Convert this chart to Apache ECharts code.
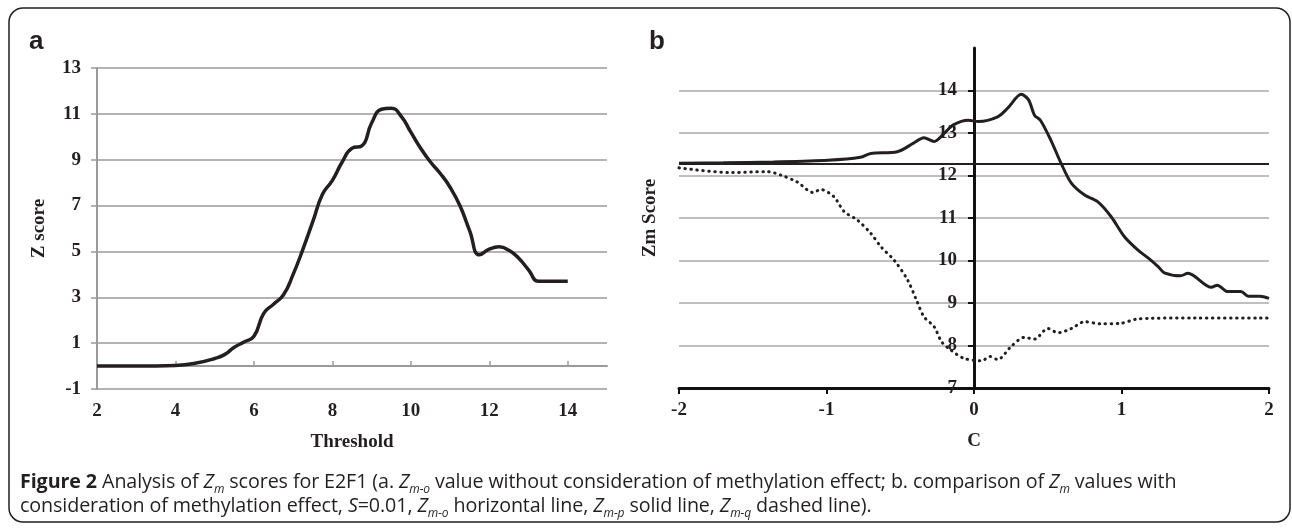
<!DOCTYPE html>
<html>
<head>
<meta charset="utf-8">
<script src="https://cdn.jsdelivr.net/npm/echarts@6/dist/echarts.min.js"></script>
<style>
  body { margin: 0; background: #fff; }
  #wrap { position: relative; width: 1292px; height: 528px; }
  #chart { position: absolute; left: 0; top: 0; width: 1292px; height: 528px; }
  #caption {
    position: absolute; left: 20px; top: 469px; width: 1268px;
    font-family: "Open Sans", sans-serif; font-size: 19.7px; line-height: 24px; color: #231f20;
    letter-spacing: -0.1px;
  }
  #caption i { font-style: italic; }
  #caption sub { font-size: 12px; font-style: italic; line-height: 0; }
</style>
</head>
<body>
<div id="wrap">
  <div id="chart"></div>
  <div id="caption"><b>Figure 2</b> Analysis of <i>Z</i><sub>m</sub> scores for E2F1 (a. <i>Z</i><sub>m-o</sub> value without consideration of methylation effect; b. comparison of <i>Z</i><sub>m</sub> values with<br>consideration of methylation effect, <i>S</i>=0.01, <i>Z</i><sub>m-o</sub> horizontal line, <i>Z</i><sub>m-p</sub> solid line, <i>Z</i><sub>m-q</sub> dashed line).</div>
</div>
<script>
// panel a: Z score vs threshold
var threshold = [2, 2.5, 3, 3.5, 4, 4.5, 5, 5.25, 5.5, 5.75, 6, 6.25, 6.5, 6.75, 7, 7.25, 7.5, 7.75, 8, 8.25, 8.5, 8.75, 9, 9.25, 9.5, 9.75, 10, 10.25, 10.5, 10.75, 11, 11.25, 11.5, 11.75, 12, 12.25, 12.5, 12.75, 13, 13.25, 13.5, 13.75, 14];
var zScore = [0, 0, 0, 0, 0.02, 0.12, 0.33, 0.5, 0.82, 1.05, 1.3, 2.3, 2.7, 3.1, 4.0, 5.1, 6.3, 7.5, 8.1, 8.9, 9.5, 9.6, 10.6, 11.2, 11.25, 10.9, 10.2, 9.5, 8.9, 8.4, 7.8, 7.0, 5.9, 4.85, 5.1, 5.2, 5.05, 4.7, 4.2, 3.7, 3.7, 3.7, 3.7];
var aXTicks = [2, 4, 6, 8, 10, 12, 14];
var aYTicks = [-1, 1, 3, 5, 7, 9, 11, 13];

// panel b: Zm score vs C
var zmo = 12.27;
var zmpC = [-2, -1.7, -1.36, -0.99, -0.77, -0.7, -0.52, -0.41, -0.34, -0.27, -0.2, -0.14, -0.04, 0.03, 0.16, 0.23, 0.32, 0.37, 0.41, 0.45, 0.52, 0.59, 0.66, 0.75, 0.84, 0.93, 1.02, 1.11, 1.18, 1.25, 1.29, 1.4, 1.45, 1.61, 1.65, 1.72, 1.81, 1.86, 1.94, 2];
var zmp = [12.29, 12.3, 12.32, 12.36, 12.43, 12.52, 12.56, 12.76, 12.89, 12.8, 13.0, 13.19, 13.3, 13.27, 13.38, 13.59, 13.91, 13.78, 13.42, 13.3, 12.84, 12.29, 11.82, 11.54, 11.38, 11.03, 10.56, 10.25, 10.06, 9.85, 9.71, 9.64, 9.70, 9.37, 9.42, 9.27, 9.27, 9.16, 9.16, 9.11];
var zmqC = [-2, -1.65, -1.4, -1.31, -1.2, -1.09, -1.04, -0.95, -0.88, -0.79, -0.7, -0.63, -0.54, -0.45, -0.39, -0.34, -0.27, -0.22, -0.16, -0.07, 0.05, 0.11, 0.16, 0.25, 0.34, 0.41, 0.5, 0.57, 0.66, 0.75, 0.86, 0.99, 1.1, 1.2, 1.5, 2];
var zmq = [12.18, 12.07, 12.09, 12.01, 11.85, 11.6, 11.67, 11.5, 11.15, 10.95, 10.64, 10.32, 10.0, 9.54, 9.07, 8.68, 8.44, 8.09, 7.9, 7.7, 7.64, 7.74, 7.67, 7.97, 8.19, 8.15, 8.4, 8.3, 8.4, 8.56, 8.51, 8.52, 8.62, 8.64, 8.65, 8.65];
var bXTicks = [-2, -1, 0, 1, 2];
var bYTicks = [7, 8, 9, 10, 11, 12, 13, 14];

function pairs(xs, ys) {
  return xs.map(function (x, i) { return [x, ys[i]]; });
}

var serif = { fontFamily: "Liberation Serif", fontWeight: "bold", fontSize: 19, color: "#231f20" };
var grey = "#9a9a9a";

var chart = echarts.init(document.getElementById("chart"));
chart.setOption({
  animation: false,
  graphic: [
    { type: "rect", shape: { x: 9, y: 8, width: 1281, height: 514, r: 14 },
      style: { fill: "none", stroke: "#231f20", lineWidth: 1.5 } },
    { type: "text", left: 29, top: 29, style: { text: "a", font: "bold 26px Liberation Sans", fill: "#231f20" } },
    { type: "text", left: 649, top: 29, style: { text: "b", font: "bold 26px Liberation Sans", fill: "#231f20" } },
    // y-axis title for panel b (its axis sits at C = 0, so the title is placed by hand)
    { type: "text", x: 650, y: 218, rotation: Math.PI / 2,
      style: { text: "Zm Score", font: "bold 19px Liberation Serif", fill: "#231f20", align: "center", verticalAlign: "middle" } }
  ],
  grid: [
    { left: 97, top: 68, width: 510, height: 321 },
    { left: 679, top: 48, width: 590, height: 340 }
  ],
  xAxis: [
    { // panel a labels at bottom
      gridIndex: 0, type: "value", min: 2, max: 15,
      name: "Threshold", nameLocation: "middle", nameGap: 44,
      nameTextStyle: serif,
      axisLine: { show: false, onZero: false },
      axisTick: { show: false },
      splitLine: { show: false },
      axisLabel: Object.assign({ customValues: aXTicks, margin: 13 }, serif)
    },
    { // panel a zero line with ticks
      gridIndex: 0, type: "value", min: 2, max: 15,
      axisLine: { show: true, onZero: true, lineStyle: { color: grey, width: 2 } },
      axisTick: { show: true, customValues: aXTicks, length: 5, lineStyle: { color: grey, width: 1.5 } },
      axisLabel: { show: false },
      splitLine: { show: false }
    },
    { // panel b
      gridIndex: 1, type: "value", min: -2, max: 2, interval: 1,
      name: "C", nameLocation: "middle", nameGap: 44,
      nameTextStyle: serif,
      axisLine: { show: true, onZero: false, lineStyle: { color: "#111", width: 3 } },
      axisTick: { show: true, length: 6, lineStyle: { color: "#111", width: 2 } },
      splitLine: { show: false },
      axisLabel: Object.assign({ margin: 13 }, serif)
    }
  ],
  yAxis: [
    {
      gridIndex: 0, type: "value", min: -1, max: 13, interval: 2,
      name: "Z score", nameLocation: "middle", nameGap: 48,
      nameTextStyle: serif,
      axisLine: { show: true, lineStyle: { color: grey, width: 2 } },
      axisTick: { show: true, length: 6, lineStyle: { color: grey, width: 1.5 } },
      splitLine: { show: true, lineStyle: { color: grey, width: 1.5 } },
      axisLabel: Object.assign({ customValues: aYTicks, margin: 16 }, serif)
    },
    {
      gridIndex: 1, type: "value", min: 7, max: 15, interval: 1,
      position: "left", offset: -295,
      axisLine: { show: true, onZero: false, lineStyle: { color: "#111", width: 3 } },
      axisTick: { show: true, length: 6, customValues: bYTicks, lineStyle: { color: "#111", width: 2 } },
      splitLine: { show: true, lineStyle: { color: "#aaa", width: 1.5 } },
      axisLabel: Object.assign({ customValues: bYTicks, margin: 17 }, serif)
    }
  ],
  series: [
    { type: "line", xAxisIndex: 0, yAxisIndex: 0, data: pairs(threshold, zScore),
      smooth: 0.5, showSymbol: false, lineStyle: { color: "#231f20", width: 3.5 } },
    { type: "line", xAxisIndex: 2, yAxisIndex: 1, data: [[-2, zmo], [2, zmo]],
      showSymbol: false, lineStyle: { color: "#231f20", width: 2 } },
    { type: "line", xAxisIndex: 2, yAxisIndex: 1, data: pairs(zmpC, zmp),
      smooth: 0.3, showSymbol: false, lineStyle: { color: "#231f20", width: 3 } },
    { type: "line", xAxisIndex: 2, yAxisIndex: 1, data: pairs(zmqC, zmq),
      smooth: 0.3, showSymbol: false, lineStyle: { color: "#231f20", width: 3, type: [0.5, 5.5], cap: "round" } }
  ]
});
</script>
</body>
</html>
